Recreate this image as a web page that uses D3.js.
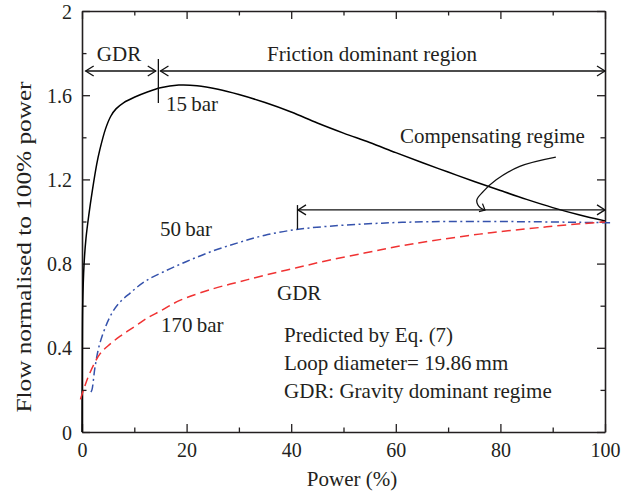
<!DOCTYPE html>
<html>
<head>
<meta charset="utf-8">
<script src="https://cdn.jsdelivr.net/npm/d3@7"></script>
<style>
  html, body { margin: 0; padding: 0; background: #fff; }
  svg { display: block; }
  text { font-family: "Liberation Serif", "Times New Roman", serif; fill: #231f20; }
</style>
</head>
<body>
<svg id="chart" width="632" height="494"></svg>
<script>
// Flow normalised to 100% power vs power, for three system pressures
const power15 = [0, 0.05, 0.13, 0.4, 0.76, 1.3, 2.0, 2.8, 3.4, 4.5, 5.5, 6.5, 8, 10, 12.5, 15, 18.5, 22, 26, 30, 35, 40, 45, 50, 55, 60, 65, 70, 75, 80, 85, 90, 95, 100];
const flow15  = [0, 0.3, 0.6, 0.8, 0.92, 1.03, 1.15, 1.27, 1.34, 1.44, 1.5, 1.535, 1.565, 1.59, 1.615, 1.635, 1.648, 1.645, 1.628, 1.603, 1.565, 1.52, 1.468, 1.42, 1.375, 1.327, 1.28, 1.235, 1.19, 1.147, 1.105, 1.066, 1.032, 1.003];

const power50 = [1.7, 1.9, 2.5, 3.4, 5.3, 7, 9.2, 12, 15.5, 20, 25, 30, 35, 41, 47, 54, 60, 66.5, 75, 85, 95, 101];
const flow50  = [0.19, 0.2, 0.31, 0.42, 0.545, 0.61, 0.66, 0.715, 0.76, 0.81, 0.86, 0.9, 0.935, 0.962, 0.977, 0.988, 0.995, 0.999, 1.0, 0.999, 0.996, 0.994];

const power170 = [-0.3, 0.5, 1.5, 3.4, 5, 7.3, 10, 12.4, 15, 18.7, 25, 30, 35, 41, 47, 54, 60, 66.5, 76, 85, 92, 100];
const flow170  = [0.155, 0.215, 0.28, 0.37, 0.41, 0.455, 0.5, 0.54, 0.575, 0.625, 0.68, 0.713, 0.745, 0.78, 0.815, 0.85, 0.88, 0.907, 0.94, 0.965, 0.982, 0.998];

const xTicks = [0, 20, 40, 60, 80, 100];
const xMinorTicks = [10, 30, 50, 70, 90];
const yTicks = [0, 0.4, 0.8, 1.2, 1.6, 2];
const yTickLabels = ["0", "0.4", "0.8", "1.2", "1.6", "2"];
const yMinorTicks = [0.2, 0.6, 1.0, 1.4, 1.8];

const seriesNames = ["15\u2009bar", "50\u2009bar", "170\u2009bar"];
const noteLines = ["Predicted by Eq. (7)", "Loop diameter= 19.86\u2009mm", "GDR: Gravity dominant regime"];

const svg = d3.select("#chart");
const plot = { left: 82, right: 605, top: 11, bottom: 432 };

const x = d3.scaleLinear().domain([0, 100]).range([plot.left, plot.right]);
const y = d3.scaleLinear().domain([0, 2]).range([plot.bottom, plot.top]);

const ink = "#231f20";
const fs = 20;
const noteSize = 21;

// ---- axes: boxed frame, ticks pointing inward on all four sides
function drawAxis(gen, tx, ty, major, minor, labelFmt) {
  const g = svg.append("g").attr("transform", `translate(${tx},${ty})`);
  g.call(gen.tickValues(major).tickSizeInner(-8).tickSizeOuter(0).tickPadding(11).tickFormat(labelFmt));
  const m = svg.append("g").attr("transform", `translate(${tx},${ty})`);
  m.call(gen.tickValues(minor).tickSizeInner(-4.5).tickSizeOuter(0).tickFormat(""));
  m.select(".domain").remove();
  [g, m].forEach(s => {
    s.selectAll("line").attr("stroke", ink).attr("stroke-width", 1.3);
    s.selectAll(".domain").attr("stroke", ink).attr("stroke-width", 1.6);
    s.selectAll("text").attr("font-size", fs).attr("font-family", "Liberation Serif").attr("fill", ink);
  });
  return g;
}
const yLabel = d => yTickLabels[yTicks.indexOf(d)];
drawAxis(d3.axisBottom(x), 0, plot.bottom, xTicks, xMinorTicks, d3.format("d"));
drawAxis(d3.axisTop(x), 0, plot.top, xTicks, xMinorTicks, () => "");
const gl = drawAxis(d3.axisLeft(y), plot.left, 0, yTicks, yMinorTicks, yLabel);
gl.selectAll("text").attr("dy", "0.35em").attr("x", -10);
drawAxis(d3.axisRight(y), plot.right, 0, yTicks, yMinorTicks, () => "");

// axis titles
svg.append("text").attr("x", 352).attr("y", 486).attr("text-anchor", "middle")
  .attr("font-size", 21).text("Power (%)");
svg.append("text").attr("transform", "translate(31,247) rotate(-90)").attr("text-anchor", "middle")
  .attr("font-size", 21.5).attr("textLength", 331).attr("lengthAdjust", "spacingAndGlyphs")
  .text("Flow normalised to 100% power");

// ---- curves
const line = d3.line().x(d => x(d[0])).y(d => y(d[1])).curve(d3.curveCatmullRom.alpha(0.5));
const series = [
  { name: seriesNames[0], xs: power15, ys: flow15, color: "#000000", dash: null },
  { name: seriesNames[1], xs: power50, ys: flow50, color: "#3552ac", dash: "8,3.5,2,3.5" },
  { name: seriesNames[2], xs: power170, ys: flow170, color: "#f03232", dash: "9,5" }
];
series.forEach(s => {
  svg.append("path")
    .datum(d3.zip(s.xs, s.ys))
    .attr("fill", "none")
    .attr("stroke", s.color)
    .attr("stroke-width", 1.5)
    .attr("stroke-dasharray", s.dash)
    .attr("d", line);
});

// ---- annotation arrows
const arrowInk = "#111";
function chevron(px, py, dir) {
  // open arrow head with its tip at (px, py); dir = +1 points right, -1 points left
  const l = 8, h = 5;
  svg.append("path")
    .attr("d", `M${px - dir * l},${py - h}L${px},${py}L${px - dir * l},${py + h}`)
    .attr("fill", "none").attr("stroke", arrowInk).attr("stroke-width", 1.3);
}
function hArrow(x0, x1, yv, heads) {
  const py = y(yv);
  svg.append("line").attr("x1", x(x0)).attr("x2", x(x1)).attr("y1", py).attr("y2", py)
    .attr("stroke", arrowInk).attr("stroke-width", 1.3);
  if (heads.left) chevron(x(x0), py, -1);
  if (heads.right) chevron(x(x1), py, 1);
}
function vBar(xv, y0, y1) {
  svg.append("line").attr("x1", x(xv)).attr("x2", x(xv)).attr("y1", y(y0)).attr("y2", y(y1))
    .attr("stroke", arrowInk).attr("stroke-width", 1.3);
}

// gravity dominant region / friction dominant region (15 bar)
hArrow(0.7, 14.1, 1.715, { left: true, right: true });
vBar(14.6, 1.563, 1.772);
hArrow(15.0, 100, 1.715, { left: true, right: true });

// compensating regime (50 bar)
hArrow(41.3, 100, 1.055, { left: true, right: true });
vBar(41.2, 0.963, 1.078);

// curved pointer from the "Compensating regime" label
const pointer = [[90.6, 1.306], [83.7, 1.262], [79.2, 1.198], [76.7, 1.142], [75.5, 1.103], [75.7, 1.078], [76.1, 1.067], [77.05, 1.054]];
svg.append("path").datum(pointer)
  .attr("fill", "none").attr("stroke", arrowInk).attr("stroke-width", 1.3)
  .attr("d", d3.line().x(d => x(d[0])).y(d => y(d[1])).curve(d3.curveCatmullRom));
svg.append("path")
  .attr("d", `M${x(77.05) - 6},${y(1.054) + 1.5}L${x(77.05)},${y(1.054)}L${x(77.05) - 2.5},${y(1.054) - 6.5}`)
  .attr("fill", "none").attr("stroke", arrowInk).attr("stroke-width", 1.3);

// ---- labels
function label(txt, px, py, anchor, size) {
  svg.append("text").attr("x", px).attr("y", py).attr("text-anchor", anchor || "start")
    .attr("font-size", size || noteSize).text(txt);
}
label("GDR", 119, 61, "middle");
label("Friction dominant region", 372, 61, "middle");
label(seriesNames[0], 166, 111);
label("Compensating regime", 400, 143);
label(seriesNames[1], 160, 236);
label(seriesNames[2], 161, 332);
label("GDR", 277, 300);
noteLines.forEach((t, i) => label(t, 284, 342 + i * 28));
</script>
</body>
</html>
